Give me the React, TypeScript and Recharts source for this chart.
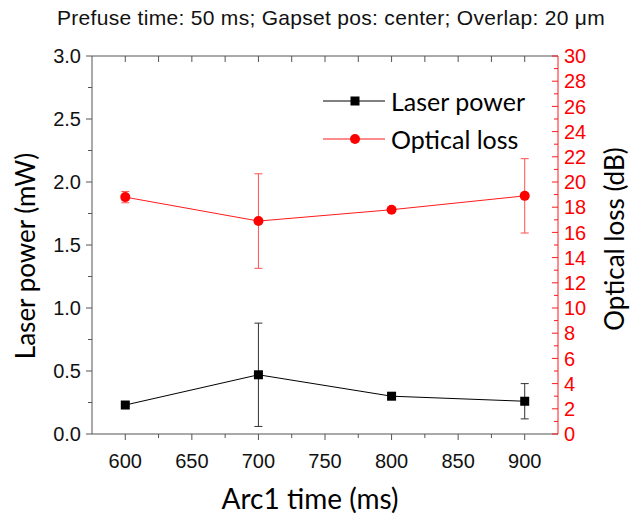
import React from "react";
import {
  ComposedChart,
  Line,
  XAxis,
  YAxis,
  ErrorBar,
  Legend,
} from "recharts";

// Arc1 time (ms)
const arcTimes = [600, 700, 800, 900];
// Laser power (mW) with error
const laserPower = [0.23, 0.47, 0.3, 0.26];
const laserPowerErr = [0, 0.41, 0, 0.14];
// Optical loss (dB) with error
const opticalLoss = [18.8, 16.9, 17.8, 18.9];
const opticalLossErr = [0.45, 3.75, 0, 2.95];

// Axis ticks
const xDomain = [575, 925];
const xTicks = [575, 600, 625, 650, 675, 700, 725, 750, 775, 800, 825, 850, 875, 900, 925];
const xLabels = [600, 650, 700, 750, 800, 850, 900];
const leftTicks = [0, 0.25, 0.5, 0.75, 1, 1.25, 1.5, 1.75, 2, 2.25, 2.5, 2.75, 3];
const leftLabels = [0, 0.5, 1, 1.5, 2, 2.5, 3];
const rightTicks = Array.from({ length: 31 }, (_, i) => i);

const data = arcTimes.map((t, i) => ({
  time: t,
  power: laserPower[i],
  powerErr: laserPowerErr[i],
  loss: opticalLoss[i],
  lossErr: opticalLossErr[i],
}));

const RED = "#ff1a1a";
const TICK_FONT = "'Liberation Sans', Arial, sans-serif";
const TITLE_FONT = "Lato, 'Open Sans', sans-serif";

// layout
const W = 630;
const H = 514;
const MARGIN = { top: 56, right: 12, bottom: 30, left: 32 };
const Y_AXIS_W = 60;
const X_AXIS_H = 50;
const PLOT_W = W - MARGIN.left - MARGIN.right - 2 * Y_AXIS_W;
const PLOT_H = H - MARGIN.top - MARGIN.bottom - X_AXIS_H;

// bottom ticks also draw the mirrored top frame with inward ticks
function BottomTick(props: any) {
  const { x, y, payload } = props;
  const major = xLabels.includes(payload.value);
  const top = y - PLOT_H;
  if (payload.value === xDomain[0]) {
    return <line x1={x} y1={top} x2={x + PLOT_W} y2={top} stroke="#555" strokeWidth={1} />;
  }
  if (payload.value === xDomain[1]) return <g />;
  return (
    <g>
      <line x1={x} y1={y} x2={x} y2={y + (major ? 6 : 4)} stroke="#555" strokeWidth={1} />
      <line x1={x} y1={top} x2={x} y2={top + 6} stroke="#555" strokeWidth={1} />
      {major && (
        <text x={x} y={y + 34} textAnchor="middle" fontSize={20} fontFamily={TICK_FONT} fill="#111">
          {payload.value}
        </text>
      )}
    </g>
  );
}

function LeftTick(props: any) {
  const { x, y, payload } = props;
  const major = leftLabels.includes(payload.value);
  return (
    <g>
      <line x1={x} y1={y} x2={x - (major ? 6 : 4)} y2={y} stroke="#555" strokeWidth={1} />
      {major && (
        <text x={x - 11} y={y} dy="0.36em" textAnchor="end" fontSize={20} fontFamily={TICK_FONT} fill="#111">
          {payload.value.toFixed(1)}
        </text>
      )}
    </g>
  );
}

function RightTick(props: any) {
  const { x, y, payload } = props;
  const major = payload.value % 2 === 0;
  return (
    <g>
      <line x1={x} y1={y} x2={x - (major ? 6 : 4)} y2={y} stroke={RED} strokeWidth={1} />
      {major && (
        <text x={x + 6} y={y} dy="0.36em" textAnchor="start" fontSize={20} fontFamily={TICK_FONT} fill="#ff0000">
          {payload.value}
        </text>
      )}
    </g>
  );
}

function SquareDot(props: any) {
  const { cx, cy, index } = props;
  return <rect key={`sq-${index}`} x={cx - 4.5} y={cy - 4.5} width={9} height={9} fill="#000" />;
}

function RoundDot(props: any) {
  const { cx, cy, index } = props;
  return <circle key={`ci-${index}`} cx={cx} cy={cy} r={5} fill="#ff0000" />;
}

function LegendBox() {
  const rows = [
    { label: "Laser power", color: "#000", square: true },
    { label: "Optical loss", color: RED, square: false },
  ];
  return (
    <div>
      {rows.map((r) => (
        <div key={r.label} style={{ display: "flex", alignItems: "center", height: 38 }}>
          <svg width={64} height={14}>
            <line x1={0} y1={7} x2={62} y2={7} stroke={r.color} strokeWidth={1} />
            {r.square ? (
              <rect x={27.5} y={2.5} width={9} height={9} fill="#000" />
            ) : (
              <circle cx={32} cy={7} r={5} fill="#ff0000" />
            )}
          </svg>
          <span style={{ fontFamily: TITLE_FONT, fontSize: 25, color: "#000", marginLeft: 4 }}>
            {r.label}
          </span>
        </div>
      ))}
    </div>
  );
}

const axisTitle: React.CSSProperties = {
  position: "absolute",
  whiteSpace: "nowrap",
  fontFamily: TITLE_FONT,
  fontSize: 26,
  color: "#000",
};

export default function App() {
  return (
    <div style={{ position: "absolute", left: 0, top: 0, width: W, height: H, background: "#fff" }}>
      <div
        style={{
          position: "absolute",
          left: 0,
          width: 662,
          top: 6,
          textAlign: "center",
          fontFamily: TICK_FONT,
          fontSize: 21,
          letterSpacing: 0.3,
          color: "#111",
        }}
      >
        Prefuse time: 50 ms; Gapset pos: center; Overlap: 20 μm
      </div>
      <ComposedChart width={W} height={H} data={data} margin={MARGIN}>
        <XAxis
          dataKey="time"
          type="number"
          domain={xDomain}
          ticks={xTicks}
          interval={0}
          tickSize={0}
          tickMargin={0}
          height={X_AXIS_H}
          stroke="#555"
          tick={<BottomTick />}
        />
        <YAxis
          yAxisId="left"
          domain={[0, 3]}
          ticks={leftTicks}
          interval={0}
          tickSize={0}
          tickMargin={0}
          width={Y_AXIS_W}
          stroke="#555"
          tick={<LeftTick />}
        />
        <YAxis
          yAxisId="right"
          orientation="right"
          domain={[0, 30]}
          ticks={rightTicks}
          interval={0}
          tickSize={0}
          tickMargin={0}
          width={Y_AXIS_W}
          stroke={RED}
          tick={<RightTick />}
        />
        <Legend
          layout="horizontal"
          verticalAlign="middle"
          align="center"
          wrapperStyle={{ left: 323, top: 82, width: 230 }}
          content={<LegendBox />}
        />
        <Line
          yAxisId="left"
          dataKey="power"
          stroke="#000"
          strokeWidth={1}
          dot={<SquareDot />}
          activeDot={false}
          isAnimationActive={false}
        >
          <ErrorBar dataKey="powerErr" direction="y" width={4} stroke="#333" strokeWidth={1} />
        </Line>
        <Line
          yAxisId="right"
          dataKey="loss"
          stroke={RED}
          strokeWidth={1}
          dot={<RoundDot />}
          activeDot={false}
          isAnimationActive={false}
        >
          <ErrorBar dataKey="lossErr" direction="y" width={4} stroke="#ff5050" strokeWidth={1} />
        </Line>
      </ComposedChart>
      <div style={{ ...axisTitle, left: 25, top: 256, transform: "translate(-50%, -50%) rotate(-90deg)" }}>
        Laser power (mW)
      </div>
      <div style={{ ...axisTitle, left: 614, top: 239, transform: "translate(-50%, -50%) rotate(-90deg)" }}>
        Optical loss (dB)
      </div>
      <div style={{ ...axisTitle, fontSize: 28, left: 310, top: 498, transform: "translate(-50%, -50%)" }}>
        Arc1 time (ms)
      </div>
    </div>
  );
}
